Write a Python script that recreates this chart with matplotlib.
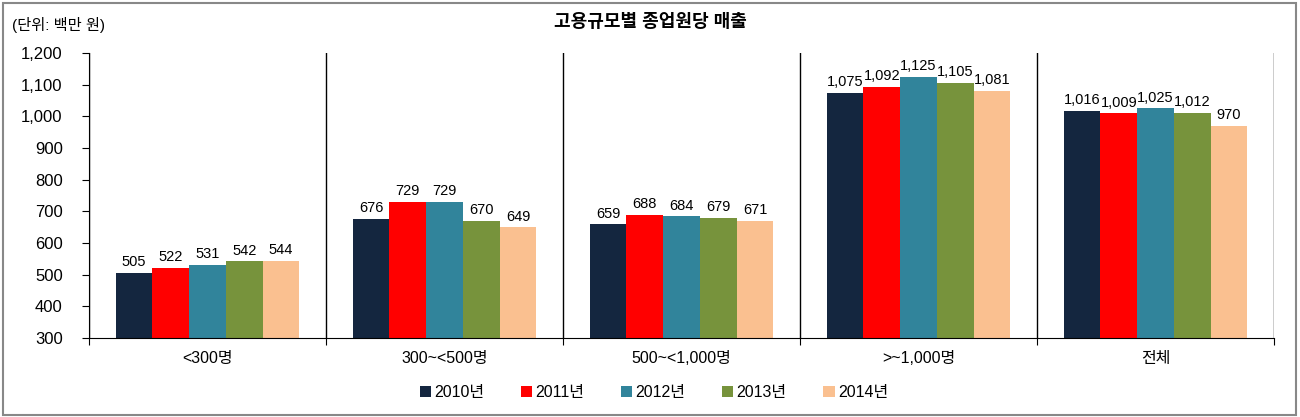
import matplotlib.pyplot as plt
from matplotlib.patches import Rectangle
from matplotlib.ticker import FuncFormatter

plt.rcParams['font.family'] = ['Liberation Sans', 'Noto Sans CJK KR']

# 고용규모별 종업원당 매출 (단위: 백만 원)
groups = ['<300명', '300~<500명', '500~<1,000명', '>~1,000명', '전체']
years = ['2010년', '2011년', '2012년', '2013년', '2014년']
v2010 = [505, 676, 659, 1075, 1016]
v2011 = [522, 729, 688, 1092, 1009]
v2012 = [531, 729, 684, 1125, 1025]
v2013 = [542, 670, 679, 1105, 1012]
v2014 = [544, 649, 671, 1081, 970]
series = [v2010, v2011, v2012, v2013, v2014]
colors = ['#14263f', '#ff0000', '#31849b', '#77933c', '#fac090']

fig = plt.figure(figsize=(13, 4.17), dpi=100)
ax = fig.add_axes([0.0685, 0.1894, 0.9115, 0.6836])

w = 0.155
for j, (vals, c, lab) in enumerate(zip(series, colors, years)):
    xs = [i + 0.5 + (j - 2) * w for i in range(len(groups))]
    ax.bar(xs, [v - 300 for v in vals], width=w, bottom=300, color=c, label=lab)
    for x, v in zip(xs, vals):
        ax.text(x, v + 12, f'{v:,}', ha='center', va='bottom', fontsize=10.5)

ax.set_xlim(0, 5)
ax.set_ylim(300, 1200)
ax.set_yticks(range(300, 1201, 100))
ax.yaxis.set_major_formatter(FuncFormatter(lambda v, p: f'{int(v):,}'))
ax.tick_params(axis='y', direction='out', length=5, labelsize=12, pad=14)

# 그룹 구분선
ax.set_xticks(range(0, 6))
ax.set_xticklabels([])
ax.tick_params(axis='x', which='major', direction='out', length=5)
ax.grid(axis='x', which='major', color='black', linewidth=1)
ax.set_xticks([i + 0.5 for i in range(5)], minor=True)
ax.set_xticklabels(groups, minor=True, fontsize=11.5)
ax.tick_params(axis='x', which='minor', length=0, pad=9)
ax.set_axisbelow(False)

for s in ['top', 'right']:
    ax.spines[s].set_visible(False)

fig.text(0.5, 0.945, '고용규모별 종업원당 매출', ha='center', va='center',
         fontsize=13, fontweight='bold')
fig.text(0.009, 0.94, '(단위: 백만 원)', ha='left', va='center', fontsize=11)

fig.legend(loc='center', bbox_to_anchor=(0.503, 0.058), ncol=5, frameon=False,
           handlelength=0.7, handleheight=0.7, handletextpad=0.2,
           columnspacing=2.3, fontsize=11.5)

fig.patches.append(Rectangle((0.002, 0.004), 0.995, 0.99, transform=fig.transFigure,
                             fill=False, edgecolor='#888888', linewidth=1.5))

fig.savefig('out.png', dpi=100)
